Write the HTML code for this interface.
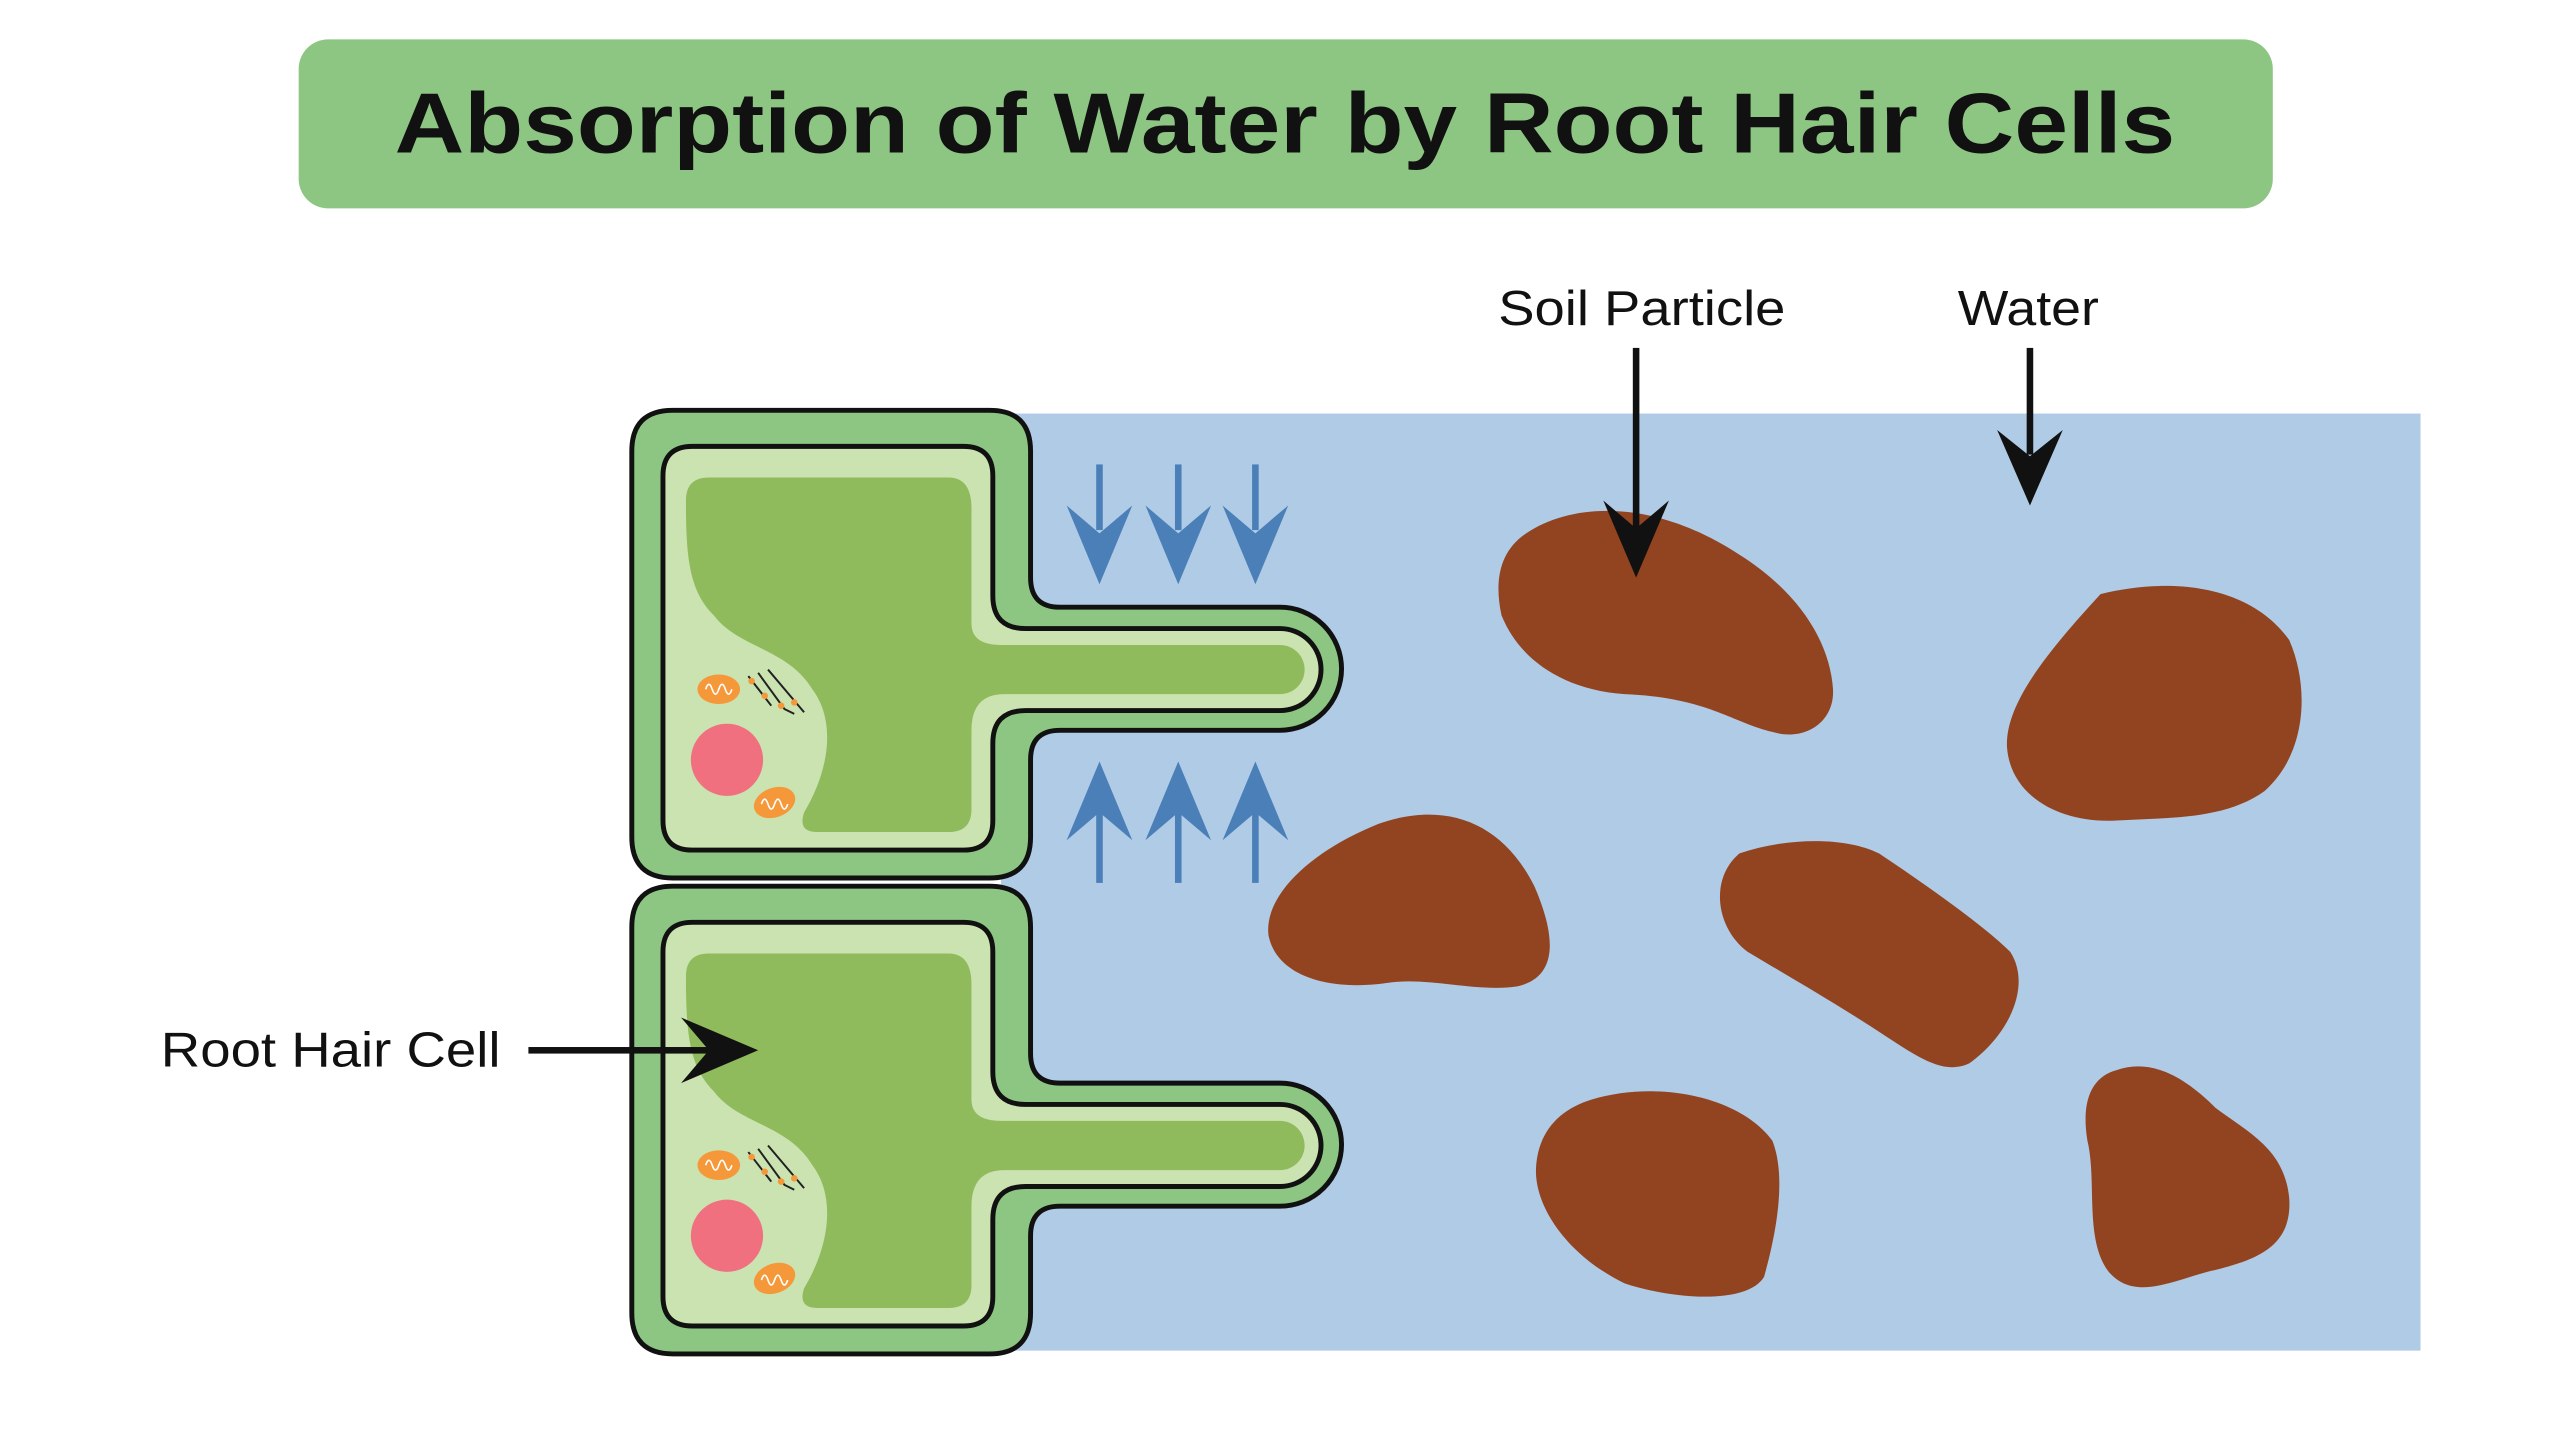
<!DOCTYPE html>
<html><head><meta charset="utf-8"><style>
html,body{margin:0;padding:0;background:#fff;}
svg{display:block;}
</style></head><body>
<svg width="2560" height="1455" viewBox="0 0 1560 886.6" preserveAspectRatio="none" xmlns="http://www.w3.org/2000/svg">
<rect x="182" y="24" width="1203" height="103" rx="18" fill="#8dc583"/>
<text x="783" y="93" text-anchor="middle" font-family="Liberation Sans, sans-serif" font-weight="bold" font-size="52" textLength="1085" lengthAdjust="spacingAndGlyphs" fill="#111">Absorption of Water by Root Hair Cells</text>

<rect x="610" y="252" width="865" height="571" fill="#b0cbe6"/>

<g fill="#924421">
<path d="M930,325 C960,305 1010,305 1060,338 C1095,360 1115,390 1117,420 C1118,440 1100,452 1080,446 C1055,440 1040,425 990,423 C950,420 925,400 915,375 C910,352 915,335 930,325Z"/>
<path d="M1280,362 C1320,352 1370,355 1395,390 C1408,420 1405,460 1380,482 C1355,500 1320,498 1290,500 C1255,502 1225,485 1223,455 C1222,430 1245,400 1280,362Z"/>
<path d="M840,502 C880,488 915,500 935,540 C948,570 950,595 925,601 C900,605 870,595 845,599 C810,604 778,595 773,570 C770,545 800,518 840,502Z"/>
<path d="M1060,520 C1090,510 1125,510 1145,520 C1175,540 1210,565 1225,580 C1238,600 1225,630 1200,648 C1185,655 1170,645 1150,632 C1120,612 1090,595 1065,580 C1045,565 1042,535 1060,520Z"/>
<path d="M970,670 C1010,658 1060,668 1080,695 C1090,720 1080,760 1075,778 C1065,795 1020,792 990,782 C955,765 935,735 936,712 C937,690 950,676 970,670Z"/>
<path d="M1290,652 C1310,645 1330,655 1350,675 C1370,690 1392,700 1395,730 C1397,760 1375,768 1345,775 C1320,782 1300,792 1285,775 C1270,755 1278,720 1272,695 C1268,670 1275,656 1290,652Z"/>
</g>

<g fill="#4a7fb8" stroke="none">
<g id="dn">
<rect x="668" y="283" width="4" height="40"/>
<path d="M650,308 L670,325 L690,308 L670,356Z"/>
</g>
<use href="#dn" x="48"/><use href="#dn" x="95"/>
<g id="up">
<rect x="668" y="495" width="4" height="43"/>
<path d="M650,512 L670,495 L690,512 L670,464Z"/>
</g>
<use href="#up" x="48"/><use href="#up" x="95"/>
</g>

<defs>
<g id="cell">
<path d="M410,250 L603,250 Q628,250 628,275 L628,352 Q628,370 646,370 L780,370 A37.5,37.5 0 0 1 780,445 L646,445 Q628,445 628,463 L628,510 Q628,535 603,535 L410,535 Q385,535 385,510 L385,275 Q385,250 410,250Z" fill="#8dc583" stroke="#111" stroke-width="3"/>
<path d="M422,272 L587,272 Q605,272 605,290 L605,363 Q605,383 625,383 L780,383 A25,25 0 0 1 780,433 L625,433 Q605,433 605,453 L605,500 Q605,518 587,518 L422,518 Q404,518 404,500 L404,290 Q404,272 422,272Z" fill="#cbe3b1" stroke="#111" stroke-width="3"/>
<path d="M432,291 L578,291 Q592,291 592,310 L592,380 Q592,393 610,393 L780,393 A15,15 0 0 1 780,423 L612,423 Q592,423 592,445 L592,493 Q592,507 578,507 L498,507 Q486,507 490,495 C505,470 510,440 495,420 C480,395 450,395 435,375 C420,360 418,340 418,305 Q418,291 432,291Z" fill="#8fbb5d"/>
<ellipse cx="443" cy="463" rx="22" ry="22" fill="#f07080"/>
<ellipse cx="438" cy="420" rx="13" ry="9" fill="#f5983a"/>
<ellipse cx="472" cy="489" rx="13" ry="9" fill="#f5983a" transform="rotate(-20 472 489)"/>
<path d="M430,420 q2,-6 4,0 q2,6 4,0 q2,-6 4,0 q2,6 4,0" stroke="#fff" stroke-width="1" fill="none"/>
<path d="M464,490 q2,-6 4,0 q2,6 4,0 q2,-6 4,0 q2,6 4,0" stroke="#fff" stroke-width="1" fill="none"/>
<path d="M456,412 L470,430 M462,410 L478,432 L484,435 M468,408 L490,434" stroke="#222" stroke-width="1.2" fill="none"/>
<circle cx="458" cy="415" r="2" fill="#f5983a"/><circle cx="466" cy="424" r="2" fill="#f5983a"/><circle cx="476" cy="430" r="2" fill="#f5983a"/><circle cx="484" cy="428" r="2" fill="#f5983a"/>
</g>
</defs>
<use href="#cell"/>
<use href="#cell" y="290"/>

<g font-family="'Liberation Sans',sans-serif" font-size="30" fill="#111">
<text x="913" y="198" textLength="175" lengthAdjust="spacingAndGlyphs">Soil Particle</text>
<text x="1193" y="198" textLength="86" lengthAdjust="spacingAndGlyphs">Water</text>
<text x="98" y="650" textLength="207" lengthAdjust="spacingAndGlyphs">Root Hair Cell</text>
</g>
<g fill="#111">
<rect x="995" y="212" width="4" height="110"/>
<path d="M977,305 L997,322 L1017,305 L997,352Z"/>
<rect x="1235" y="212" width="4" height="65"/>
<path d="M1217,262 L1237,278 L1257,262 L1237,308Z"/>
<rect x="322" y="638" width="110" height="4"/>
<path d="M415,620 L432,640 L415,660 L462,640Z"/>
</g>
</svg>
</body></html>
